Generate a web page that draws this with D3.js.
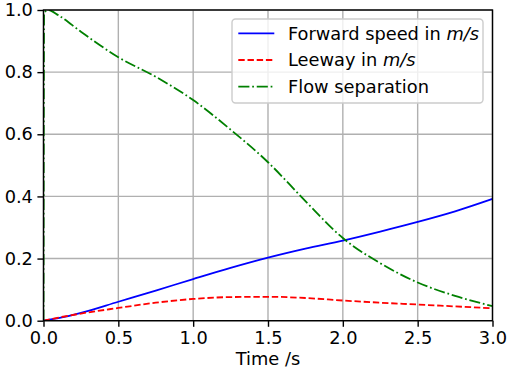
<!DOCTYPE html>
<html>
<head>
<meta charset="utf-8">
<script src="https://cdn.jsdelivr.net/npm/d3@7"></script>
<style>
	html, body { margin: 0; padding: 0; background: #fff; overflow: hidden; }
	svg { display: block; }
	text { font-family: "DejaVu Sans", sans-serif; fill: #000; }
</style>
</head>
<body>
<svg></svg>
<script>
const width = 507;
const height = 373;
const margin = { top: 10, right: 14.5, bottom: 52.3, left: 43.5 };
const innerWidth = width - margin.left - margin.right;
const innerHeight = height - margin.top - margin.bottom;
const fontSize = 17.8;

// data
const time = [0, 0.1, 0.25, 0.5, 0.75, 1.0, 1.25, 1.5, 1.75, 2.0, 2.25, 2.5, 2.75, 3.0];
const forwardSpeed = [0, 0.008, 0.025, 0.061, 0.097, 0.134, 0.17, 0.203, 0.232, 0.258, 0.287, 0.318, 0.352, 0.392];
const leeway = [0, 0.01, 0.023, 0.041, 0.058, 0.07, 0.076, 0.077, 0.073, 0.065, 0.058, 0.052, 0.046, 0.04];
const flowTime = [0, 0.004, 0.03, 0.1, 0.25, 0.5, 0.75, 1.0, 1.25, 1.5, 1.75, 2.0, 2.25, 2.5, 2.75, 3.0];
const flowSeparation = [0, 0.99, 1.0, 0.983, 0.93, 0.848, 0.785, 0.71, 0.615, 0.51, 0.385, 0.266, 0.185, 0.123, 0.08, 0.047];

const xTicks = [0, 0.5, 1.0, 1.5, 2.0, 2.5, 3.0];
const yTicks = [0, 0.2, 0.4, 0.6, 0.8, 1.0];

const series = [
	{ label: 'Forward speed in ', math: 'm/s', t: time, v: forwardSpeed, color: '#0000ff', dash: null },
	{ label: 'Leeway in ', math: 'm/s', t: time, v: leeway, color: '#ff0000', dash: '6.4,2.8' },
	{ label: 'Flow separation', math: '', t: flowTime, v: flowSeparation, color: '#008000', dash: '11.1,2.8,1.74,2.8' }
];

const svg = d3.select('svg')
	.attr('width', width)
	.attr('height', height);

const xScale = d3.scaleLinear().domain([0, 3]).range([0, innerWidth]);
const yScale = d3.scaleLinear().domain([0, 1]).range([innerHeight, 0]);

const g = svg.append('g')
	.attr('transform', `translate(${margin.left}, ${margin.top})`);

svg.append('defs').append('clipPath').attr('id', 'clip')
	.append('rect').attr('width', innerWidth).attr('height', innerHeight);

// grid
g.append('g').selectAll('line').data(xTicks).enter().append('line')
	.attr('x1', d => xScale(d)).attr('x2', d => xScale(d))
	.attr('y1', 0).attr('y2', innerHeight)
	.attr('stroke', '#b0b0b0').attr('stroke-width', 1.4);
g.append('g').selectAll('line').data(yTicks).enter().append('line')
	.attr('y1', d => yScale(d)).attr('y2', d => yScale(d))
	.attr('x1', 0).attr('x2', innerWidth)
	.attr('stroke', '#b0b0b0').attr('stroke-width', 1.4);

// lines
const lineGen = d3.line().curve(d3.curveMonotoneX);
const linesG = g.append('g').attr('clip-path', 'url(#clip)');
series.forEach(s => {
	linesG.append('path')
		.attr('d', lineGen(s.t.map((t, i) => [xScale(t), yScale(s.v[i])])))
		.attr('fill', 'none')
		.attr('stroke', s.color)
		.attr('stroke-width', 1.8)
		.attr('stroke-dasharray', s.dash);
});

// axes
const xAxis = d3.axisBottom(xScale).tickValues(xTicks).tickFormat(d3.format('.1f'))
	.tickSizeInner(6.1).tickSizeOuter(0).tickPadding(5);
const yAxis = d3.axisLeft(yScale).tickValues(yTicks).tickFormat(d3.format('.1f'))
	.tickSizeInner(6.1).tickSizeOuter(0).tickPadding(4.5);

const xAxisG = g.append('g').attr('transform', `translate(0, ${innerHeight})`).call(xAxis);
const yAxisG = g.append('g').call(yAxis);
[xAxisG, yAxisG].forEach(a => {
	a.select('.domain').remove();
	a.selectAll('.tick line').attr('stroke', '#000').attr('stroke-width', 1.4);
	a.selectAll('.tick text').attr('font-size', fontSize).attr('font-family', '"DejaVu Sans"').attr('fill', '#000');
});

// spines
g.append('rect')
	.attr('width', innerWidth).attr('height', innerHeight)
	.attr('fill', 'none').attr('stroke', '#000').attr('stroke-width', 1.4);

// x label
g.append('text')
	.attr('x', innerWidth / 2)
	.attr('y', innerHeight + 44)
	.attr('text-anchor', 'middle')
	.attr('font-size', fontSize)
	.text('Time /s');

// legend
const legend = g.append('g').attr('transform', `translate(${232 - margin.left}, ${19 - margin.top})`);
legend.append('rect')
	.attr('width', 251).attr('height', 84)
	.attr('rx', 3.5)
	.attr('fill', '#fff').attr('fill-opacity', 0.8)
	.attr('stroke', '#cccccc').attr('stroke-width', 1.4);
series.forEach((s, i) => {
	const y = 14.3 + i * 26.7;
	legend.append('line')
		.attr('x1', 6.3).attr('x2', 42.3)
		.attr('y1', y).attr('y2', y)
		.attr('stroke', s.color).attr('stroke-width', 1.8)
		.attr('stroke-dasharray', s.dash);
	const t = legend.append('text')
		.attr('x', 56)
		.attr('y', y)
		.attr('dy', '0.35em')
		.attr('font-size', fontSize);
	t.append('tspan').text(s.label);
	if (s.math) t.append('tspan').attr('font-style', 'italic').text(s.math);
});
</script>
</body>
</html>
